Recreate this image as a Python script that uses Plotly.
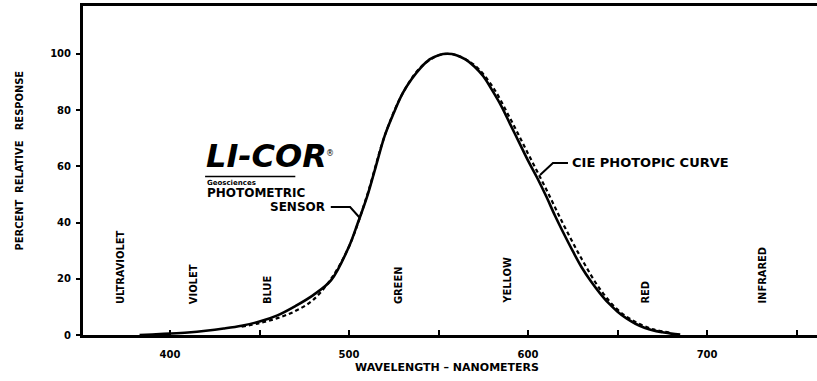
import plotly.graph_objects as go

# Photometric sensor response (solid)
sensor_nm = [383, 390, 400, 410, 420, 430, 440, 450, 460, 470, 480, 490, 500, 505, 510,
             515, 520, 525, 530, 535, 540, 545, 550, 555, 560, 565, 570, 575, 580, 585,
             590, 595, 600, 605, 610, 615, 620, 625, 630, 635, 640, 645, 650, 655, 660,
             665, 670, 675, 680, 685]
sensor_pct = [0.0, 0.2, 0.5, 0.9, 1.5, 2.3, 3.3, 4.8, 7.0, 10.3, 14.2, 19.5, 31.5, 40.0, 49.0,
              60.0, 71.0, 79.0, 86.0, 91.0, 95.0, 98.0, 99.5, 100.0, 99.5, 98.0, 95.5, 92.0, 87.0, 81.5,
              75.0, 68.5, 62.0, 56.0, 49.5, 42.5, 36.0, 29.8, 24.0, 19.2, 15.0, 11.3, 8.3, 5.9, 4.0,
              2.6, 1.6, 1.0, 0.5, 0.2]

# CIE photopic curve (dashed)
cie_nm = [440, 450, 460, 470, 480, 490, 500, 510, 520, 530, 540, 550, 555, 560, 570,
          580, 590, 600, 610, 620, 630, 640, 650, 660, 670, 680]
cie_pct = [3.0, 4.2, 6.0, 8.5, 12.5, 20.0, 31.5, 49.5, 71.0, 86.0, 95.2, 99.5, 100.0, 99.5, 96.0,
           88.5, 77.0, 64.5, 52.0, 39.0, 27.0, 16.5, 9.0, 4.6, 2.0, 0.8]

y_tickvals = [0, 20, 40, 60, 80, 100]
y_ticktext = ["0", "20", "40", "60", "80", "100"]

bands = ["ULTRAVIOLET", "VIOLET", "BLUE", "GREEN", "YELLOW", "RED", "INFRARED"]
band_nm = [372.1, 412.9, 454.2, 527.4, 588.3, 665.9, 730.7]

BOLD = "DejaVu Sans"
NARROW = "Liberation Sans Narrow, DejaVu Sans Condensed, Arial Narrow, sans-serif"

fig = go.Figure()
fig.add_trace(go.Scatter(x=cie_nm, y=cie_pct, mode="lines",
                         line=dict(color="black", width=2.2, dash="4px,3px", shape="spline"),
                         showlegend=False, hoverinfo="skip"))
fig.add_trace(go.Scatter(x=sensor_nm, y=sensor_pct, mode="lines",
                         line=dict(color="black", width=2.6, shape="spline"),
                         showlegend=False, hoverinfo="skip"))

ann = []
for name, xv in zip(bands, band_nm):
    ann.append(dict(x=xv, y=10.3, xref="x", yref="y", text="<b>%s</b>" % name,
                    textangle=-90, showarrow=False, xanchor="center", yanchor="bottom",
                    font=dict(family=NARROW, size=11, color="black")))

ann += [
    dict(x=419.0, y=56.2, xref="x", yref="y", text="<b><i>LI-COR</i></b>",
         showarrow=False, xanchor="left", yanchor="bottom",
         font=dict(family=BOLD, size=32, color="black")),
    dict(x=486.0, y=64.5, xref="x", yref="y", text="®",
         showarrow=False, xanchor="left", yanchor="middle",
         font=dict(family=BOLD, size=8, color="black")),
    dict(x=419.6, y=54.0, xref="x", yref="y", text="<b>Geosciences</b>",
         showarrow=False, xanchor="left", yanchor="middle",
         font=dict(family=BOLD, size=7, color="black")),
    dict(x=419.6, y=50.6, xref="x", yref="y", text="<b>PHOTOMETRIC</b>",
         showarrow=False, xanchor="left", yanchor="middle",
         font=dict(family=BOLD, size=12, color="black")),
    dict(x=487.7, y=45.5, xref="x", yref="y", text="<b>SENSOR</b>",
         showarrow=False, xanchor="right", yanchor="middle",
         font=dict(family=BOLD, size=12, color="black")),
    dict(x=623.5, y=61.2, xref="x", yref="y", text="<b>CIE PHOTOPIC CURVE</b>",
         showarrow=False, xanchor="left", yanchor="middle",
         font=dict(family=BOLD, size=13, color="black")),
    dict(x=-0.086, y=0.53, xref="paper", yref="paper",
         text="<b>PERCENT\u00a0\u00a0RELATIVE\u00a0\u00a0\u00a0RESPONSE</b>",
         textangle=-90, showarrow=False, xanchor="center", yanchor="middle",
         font=dict(family=NARROW, size=11, color="black")),
    dict(x=0.496, y=-0.10, xref="paper", yref="paper",
         text="<b>WAVELENGTH \u2013 NANOMETERS</b>",
         showarrow=False, xanchor="center", yanchor="middle",
         font=dict(family=BOLD, size=11, color="black")),
]

shapes = [
    dict(type="path", xref="x", yref="y",
         path="M 489.8,45.5 L 500.6,45.5 L 506.1,41.6",
         line=dict(color="black", width=2)),
    dict(type="path", xref="x", yref="y",
         path="M 622.3,61.2 L 613.9,61.2 L 606.7,56.9",
         line=dict(color="black", width=2)),
    dict(type="line", xref="x", yref="y", x0=419.6, x1=470, y0=56.4, y1=56.4,
         line=dict(color="black", width=1.5)),
]

fig.update_layout(
    width=817, height=381,
    margin=dict(l=83, r=0, t=6, b=46),
    paper_bgcolor="white", plot_bgcolor="white",
    showlegend=False,
    annotations=ann, shapes=shapes,
    xaxis=dict(range=[351.4, 761.4], tickmode="linear", tick0=400, dtick=100,
               ticks="inside", ticklen=5, tickwidth=2, tickcolor="black",
               minor=dict(dtick=50, tick0=400, ticks="inside", ticklen=5, tickwidth=2,
                          tickcolor="black", showgrid=False),
               showline=True, linecolor="black", linewidth=3, mirror=True,
               showgrid=False, zeroline=False, ticklabelstandoff=8,
               tickfont=dict(family=BOLD, size=10, color="black", weight="bold")),
    yaxis=dict(range=[0, 117], tickvals=y_tickvals, ticktext=y_ticktext,
               ticks="outside", ticklen=4, tickwidth=2, tickcolor="black",
               showline=True, linecolor="black", linewidth=3,
               showgrid=False, zeroline=False, ticklabelstandoff=3,
               tickfont=dict(family=BOLD, size=10, color="black", weight="bold")),
)

fig.write_html("out.html")
